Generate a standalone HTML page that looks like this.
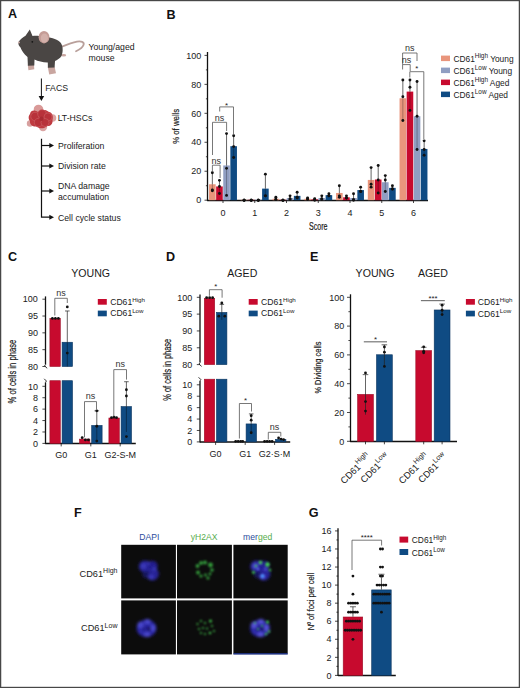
<!DOCTYPE html><html><head><meta charset="utf-8"><style>html,body{margin:0;padding:0;background:#fff;}svg{display:block;}text{font-family:"Liberation Sans",sans-serif;}</style></head><body>
<svg width="520" height="688" viewBox="0 0 520 688">
<rect x="0" y="0" width="520" height="688" fill="#fff"/>
<text x="8" y="18" font-size="12.6" text-anchor="start" fill="#111" font-weight="bold" >A</text>
<text x="166.5" y="18.5" font-size="12.6" text-anchor="start" fill="#111" font-weight="bold" >B</text>
<text x="8" y="261" font-size="12.6" text-anchor="start" fill="#111" font-weight="bold" >C</text>
<text x="166" y="261" font-size="12.6" text-anchor="start" fill="#111" font-weight="bold" >D</text>
<text x="310" y="260.5" font-size="12.6" text-anchor="start" fill="#111" font-weight="bold" >E</text>
<text x="74" y="517.1" font-size="12.6" text-anchor="start" fill="#111" font-weight="bold" >F</text>
<text x="308.7" y="517.3" font-size="12.6" text-anchor="start" fill="#111" font-weight="bold" >G</text>
<g>
<path d="M62 46.6 C67 44.5 72 42.5 77 41.6 C81 41 84.5 41.8 83.6 44.8 C82.8 47.5 79.5 49.6 76 51.2" fill="none" stroke="#b9a09b" stroke-width="1.8" stroke-linecap="round"/>
<path d="M27.8 64.8 L34 64.8 L34.3 69.3 L28.4 70.3 Z" fill="#c9a6a0"/>
<path d="M47.8 66.8 L54.6 66.8 L56 73.3 L49.2 74.4 Z" fill="#c9a6a0"/>
<ellipse cx="63.6" cy="55.2" rx="2.6" ry="1.3" fill="#c9a6a0"/>
<path d="M18.4 42.3 C20 39.5 23 37 25.5 35.8 L29.8 29.6 L32.5 36 C36 35.2 40 36 44 37 C50 37 56 38.5 60 42 C63 45 63.5 51 61.5 56 C60 58.5 57 60 55 61 L54.6 67.5 L47.9 67.8 L47.8 62.5 C43 62.6 38 61.2 34.5 59.5 L34.3 65.5 L27.9 65.8 L27.5 57 C24 54 21.5 50.5 20.5 47.5 C19 46 18 44 18.4 42.3 Z" fill="#4a4644"/>
<ellipse cx="44" cy="37.2" rx="5.4" ry="6.2" fill="#c49c96"/>
<ellipse cx="44.4" cy="38" rx="3.6" ry="4.6" fill="#d3b0aa"/>
<circle cx="32.3" cy="41.8" r="0.9" fill="#141414"/>
<circle cx="18.9" cy="42.6" r="1" fill="#cdb0ab"/>
</g>
<text x="88.5" y="49.5" font-size="8.7" text-anchor="start" fill="#1a1a1a" font-weight="normal" >Young/aged</text>
<text x="88.5" y="60.5" font-size="8.7" text-anchor="start" fill="#1a1a1a" font-weight="normal" >mouse</text>
<line x1="41.4" y1="78.5" x2="41.4" y2="97" stroke="#111" stroke-width="1.0"/>
<path d="M38.6 96 L44.2 96 L41.4 101 Z" fill="#111"/>
<text x="45.3" y="90.6" font-size="8.7" text-anchor="start" fill="#1a1a1a" font-weight="normal" >FACS</text>
<g>
<circle cx="38.5" cy="109.5" r="4.8" fill="#d99a98"/>
<circle cx="52.5" cy="118" r="3.8" fill="#dba3a2"/>
<circle cx="43" cy="127" r="4.2" fill="#dba4a3"/>
<circle cx="30" cy="123.5" r="3.2" fill="#d7a09f"/>
<path d="M30 114 C31 109.5 35 110 38 112 C41 109.5 46 109 49 112 C52.5 112.5 53.5 116.5 52.5 120 C53 124.5 50 126.5 47 126 C44.5 129 39 129 36.5 126.5 C33 127 29.5 124.5 30 121 C28 119 28.5 115.5 30 114 Z" fill="#bf3a40"/>
<circle cx="35" cy="116.5" r="4.2" fill="#b8323a" stroke="#c95a5e" stroke-width="0.7"/>
<circle cx="42" cy="114" r="4.3" fill="#b8323a" stroke="#c95a5e" stroke-width="0.7"/>
<circle cx="48" cy="117" r="4" fill="#b8323a" stroke="#c95a5e" stroke-width="0.7"/>
<circle cx="38.5" cy="122.5" r="4.2" fill="#b8323a" stroke="#c95a5e" stroke-width="0.7"/>
<circle cx="45" cy="122.5" r="4" fill="#b8323a" stroke="#c95a5e" stroke-width="0.7"/>
<circle cx="41.5" cy="118.8" r="2.2" fill="#a82a32"/>
</g>
<text x="57.7" y="121" font-size="8.7" text-anchor="start" fill="#1a1a1a" font-weight="normal" >LT-HSCs</text>
<path d="M41.5 138.7 V217.2 H50" fill="none" stroke="#111" stroke-width="1.2"/>
<line x1="41.5" y1="145.5" x2="50" y2="145.5" stroke="#111" stroke-width="1.2"/>
<line x1="41.5" y1="166" x2="50" y2="166" stroke="#111" stroke-width="1.2"/>
<line x1="41.5" y1="191" x2="50" y2="191" stroke="#111" stroke-width="1.2"/>
<path d="M49.3 143 L54 145.5 L49.3 148 Z" fill="#111"/>
<path d="M49.3 163.5 L54 166 L49.3 168.5 Z" fill="#111"/>
<path d="M49.3 188.5 L54 191 L49.3 193.5 Z" fill="#111"/>
<path d="M49.3 214.7 L54 217.2 L49.3 219.7 Z" fill="#111"/>
<text x="58" y="149" font-size="8.7" text-anchor="start" fill="#1a1a1a" font-weight="normal" >Proliferation</text>
<text x="58" y="169.2" font-size="8.7" text-anchor="start" fill="#1a1a1a" font-weight="normal" >Division rate</text>
<text x="58" y="189" font-size="8.7" text-anchor="start" fill="#1a1a1a" font-weight="normal" >DNA damage</text>
<text x="58" y="200" font-size="8.7" text-anchor="start" fill="#1a1a1a" font-weight="normal" >accumulation</text>
<text x="58" y="220.7" font-size="8.7" text-anchor="start" fill="#1a1a1a" font-weight="normal" >Cell cycle status</text>
<line x1="207.5" y1="52" x2="207.5" y2="201.1" stroke="#111" stroke-width="1.3"/>
<line x1="204.5" y1="200.2" x2="207.7" y2="200.2" stroke="#1a1a1a" stroke-width="0.8"/>
<line x1="205.9" y1="185.72" x2="207.7" y2="185.72" stroke="#1a1a1a" stroke-width="0.8"/>
<line x1="204.5" y1="171.24" x2="207.7" y2="171.24" stroke="#1a1a1a" stroke-width="0.8"/>
<line x1="205.9" y1="156.76" x2="207.7" y2="156.76" stroke="#1a1a1a" stroke-width="0.8"/>
<line x1="204.5" y1="142.28" x2="207.7" y2="142.28" stroke="#1a1a1a" stroke-width="0.8"/>
<line x1="205.9" y1="127.8" x2="207.7" y2="127.8" stroke="#1a1a1a" stroke-width="0.8"/>
<line x1="204.5" y1="113.32" x2="207.7" y2="113.32" stroke="#1a1a1a" stroke-width="0.8"/>
<line x1="205.9" y1="98.84" x2="207.7" y2="98.84" stroke="#1a1a1a" stroke-width="0.8"/>
<line x1="204.5" y1="84.36" x2="207.7" y2="84.36" stroke="#1a1a1a" stroke-width="0.8"/>
<line x1="205.9" y1="69.88" x2="207.7" y2="69.88" stroke="#1a1a1a" stroke-width="0.8"/>
<line x1="204.5" y1="55.4" x2="207.7" y2="55.4" stroke="#1a1a1a" stroke-width="0.8"/>
<text x="201.3" y="203.4" font-size="9" text-anchor="end" fill="#1a1a1a" font-weight="normal" >0</text>
<text x="201.3" y="174.44" font-size="9" text-anchor="end" fill="#1a1a1a" font-weight="normal" >20</text>
<text x="201.3" y="145.48" font-size="9" text-anchor="end" fill="#1a1a1a" font-weight="normal" >40</text>
<text x="201.3" y="116.52" font-size="9" text-anchor="end" fill="#1a1a1a" font-weight="normal" >60</text>
<text x="201.3" y="87.56" font-size="9" text-anchor="end" fill="#1a1a1a" font-weight="normal" >80</text>
<text x="201.3" y="58.6" font-size="9" text-anchor="end" fill="#1a1a1a" font-weight="normal" >100</text>
<line x1="207.5" y1="200.5" x2="428" y2="200.5" stroke="#111" stroke-width="1.3"/>
<line x1="223" y1="200.2" x2="223" y2="203" stroke="#1a1a1a" stroke-width="0.8"/>
<text x="223" y="216" font-size="9" text-anchor="middle" fill="#1a1a1a" font-weight="normal" >0</text>
<line x1="254.75" y1="200.2" x2="254.75" y2="203" stroke="#1a1a1a" stroke-width="0.8"/>
<text x="254.75" y="216" font-size="9" text-anchor="middle" fill="#1a1a1a" font-weight="normal" >1</text>
<line x1="286.5" y1="200.2" x2="286.5" y2="203" stroke="#1a1a1a" stroke-width="0.8"/>
<text x="286.5" y="216" font-size="9" text-anchor="middle" fill="#1a1a1a" font-weight="normal" >2</text>
<line x1="318.25" y1="200.2" x2="318.25" y2="203" stroke="#1a1a1a" stroke-width="0.8"/>
<text x="318.25" y="216" font-size="9" text-anchor="middle" fill="#1a1a1a" font-weight="normal" >3</text>
<line x1="350" y1="200.2" x2="350" y2="203" stroke="#1a1a1a" stroke-width="0.8"/>
<text x="350" y="216" font-size="9" text-anchor="middle" fill="#1a1a1a" font-weight="normal" >4</text>
<line x1="381.75" y1="200.2" x2="381.75" y2="203" stroke="#1a1a1a" stroke-width="0.8"/>
<text x="381.75" y="216" font-size="9" text-anchor="middle" fill="#1a1a1a" font-weight="normal" >5</text>
<line x1="413.5" y1="200.2" x2="413.5" y2="203" stroke="#1a1a1a" stroke-width="0.8"/>
<text x="413.5" y="216" font-size="9" text-anchor="middle" fill="#1a1a1a" font-weight="normal" >6</text>
<text transform="translate(178.8,126.3) rotate(-90) scale(0.79,1)" x="0" y="0" font-size="9.9" text-anchor="middle" fill="#1a1a1a" stroke="#1a1a1a" stroke-width="0.2">% of wells</text>
<text transform="translate(318.2,230) scale(0.67,1)" font-size="10.6" text-anchor="middle" fill="#1a1a1a" stroke="#1a1a1a" stroke-width="0.2">Score</text>
<rect x="209.05" y="184.27" width="6.6" height="15.93" fill="#e9957c"/>
<line x1="212.35" y1="172.69" x2="212.35" y2="184.27" stroke="#222" stroke-width="0.7"/>
<line x1="212.35" y1="184.27" x2="212.35" y2="190.79" stroke="rgba(0,0,0,0.4)" stroke-width="0.7"/>
<circle cx="212.35" cy="172.69" r="1.45" fill="#111"/>
<circle cx="212.35" cy="190.79" r="1.45" fill="#111"/>
<circle cx="212.35" cy="190.06" r="1.45" fill="#111"/>
<rect x="216.15" y="186.44" width="6.6" height="13.76" fill="#c70a2e"/>
<line x1="219.45" y1="180.36" x2="219.45" y2="186.44" stroke="#222" stroke-width="0.7"/>
<line x1="219.45" y1="186.44" x2="219.45" y2="193.54" stroke="rgba(0,0,0,0.4)" stroke-width="0.7"/>
<circle cx="219.45" cy="180.36" r="1.45" fill="#111"/>
<circle cx="219.45" cy="186.44" r="1.45" fill="#111"/>
<circle cx="219.45" cy="193.54" r="1.45" fill="#111"/>
<rect x="223.25" y="165.45" width="6.6" height="34.75" fill="#909ec2"/>
<line x1="226.55" y1="133.59" x2="226.55" y2="165.45" stroke="#222" stroke-width="0.7"/>
<line x1="226.55" y1="165.45" x2="226.55" y2="195.42" stroke="rgba(0,0,0,0.4)" stroke-width="0.7"/>
<circle cx="226.55" cy="133.59" r="1.45" fill="#111"/>
<circle cx="226.55" cy="168.34" r="1.45" fill="#111"/>
<circle cx="226.55" cy="195.42" r="1.45" fill="#111"/>
<rect x="230.35" y="146.19" width="6.6" height="54.01" fill="#0f4b83"/>
<line x1="233.65" y1="135.76" x2="233.65" y2="146.19" stroke="#222" stroke-width="0.7"/>
<line x1="233.65" y1="146.19" x2="233.65" y2="157.48" stroke="rgba(0,0,0,0.4)" stroke-width="0.7"/>
<circle cx="233.65" cy="135.76" r="1.45" fill="#111"/>
<circle cx="233.65" cy="146.62" r="1.45" fill="#111"/>
<circle cx="233.65" cy="157.48" r="1.45" fill="#111"/>
<rect x="240.8" y="199.77" width="6.6" height="0.43" fill="#e9957c"/>
<circle cx="244.1" cy="200.2" r="1.45" fill="#111"/>
<circle cx="244.1" cy="200.2" r="1.45" fill="#111"/>
<circle cx="244.1" cy="200.2" r="1.45" fill="#111"/>
<rect x="247.9" y="199.77" width="6.6" height="0.43" fill="#c70a2e"/>
<circle cx="251.2" cy="200.2" r="1.45" fill="#111"/>
<circle cx="251.2" cy="200.2" r="1.45" fill="#111"/>
<circle cx="251.2" cy="200.2" r="1.45" fill="#111"/>
<rect x="255" y="199.77" width="6.6" height="0.43" fill="#909ec2"/>
<circle cx="258.3" cy="200.2" r="1.45" fill="#111"/>
<circle cx="258.3" cy="200.2" r="1.45" fill="#111"/>
<circle cx="258.3" cy="200.2" r="1.45" fill="#111"/>
<rect x="262.1" y="188.62" width="6.6" height="11.58" fill="#0f4b83"/>
<line x1="265.4" y1="174.14" x2="265.4" y2="188.62" stroke="#222" stroke-width="0.7"/>
<line x1="265.4" y1="188.62" x2="265.4" y2="195.86" stroke="rgba(0,0,0,0.4)" stroke-width="0.7"/>
<circle cx="265.4" cy="174.14" r="1.45" fill="#111"/>
<circle cx="265.4" cy="195.86" r="1.45" fill="#111"/>
<circle cx="265.4" cy="195.86" r="1.45" fill="#111"/>
<rect x="272.55" y="198.75" width="6.6" height="1.45" fill="#e9957c"/>
<line x1="275.85" y1="197.3" x2="275.85" y2="198.75" stroke="#222" stroke-width="0.7"/>
<circle cx="275.85" cy="197.3" r="1.45" fill="#111"/>
<circle cx="275.85" cy="199.48" r="1.45" fill="#111"/>
<circle cx="275.85" cy="199.48" r="1.45" fill="#111"/>
<rect x="279.65" y="199.77" width="6.6" height="0.43" fill="#c70a2e"/>
<circle cx="282.95" cy="200.2" r="1.45" fill="#111"/>
<circle cx="282.95" cy="200.2" r="1.45" fill="#111"/>
<circle cx="282.95" cy="200.2" r="1.45" fill="#111"/>
<rect x="286.75" y="198.03" width="6.6" height="2.17" fill="#909ec2"/>
<line x1="290.05" y1="195.86" x2="290.05" y2="198.03" stroke="#222" stroke-width="0.7"/>
<circle cx="290.05" cy="195.86" r="1.45" fill="#111"/>
<circle cx="290.05" cy="198.75" r="1.45" fill="#111"/>
<circle cx="290.05" cy="199.48" r="1.45" fill="#111"/>
<rect x="293.85" y="195.86" width="6.6" height="4.34" fill="#0f4b83"/>
<line x1="297.15" y1="192.24" x2="297.15" y2="195.86" stroke="#222" stroke-width="0.7"/>
<circle cx="297.15" cy="192.24" r="1.45" fill="#111"/>
<circle cx="297.15" cy="197.3" r="1.45" fill="#111"/>
<circle cx="297.15" cy="198.03" r="1.45" fill="#111"/>
<rect x="304.3" y="198.75" width="6.6" height="1.45" fill="#e9957c"/>
<circle cx="307.6" cy="198.03" r="1.45" fill="#111"/>
<circle cx="307.6" cy="199.48" r="1.45" fill="#111"/>
<circle cx="307.6" cy="198.75" r="1.45" fill="#111"/>
<rect x="311.4" y="199.33" width="6.6" height="0.87" fill="#c70a2e"/>
<circle cx="314.7" cy="198.75" r="1.45" fill="#111"/>
<circle cx="314.7" cy="200.2" r="1.45" fill="#111"/>
<circle cx="314.7" cy="199.48" r="1.45" fill="#111"/>
<rect x="318.5" y="198.03" width="6.6" height="2.17" fill="#909ec2"/>
<line x1="321.8" y1="195.86" x2="321.8" y2="198.03" stroke="#222" stroke-width="0.7"/>
<circle cx="321.8" cy="195.86" r="1.45" fill="#111"/>
<circle cx="321.8" cy="198.75" r="1.45" fill="#111"/>
<circle cx="321.8" cy="199.48" r="1.45" fill="#111"/>
<rect x="325.6" y="195.13" width="6.6" height="5.07" fill="#0f4b83"/>
<line x1="328.9" y1="193.68" x2="328.9" y2="195.13" stroke="#222" stroke-width="0.7"/>
<circle cx="328.9" cy="193.68" r="1.45" fill="#111"/>
<circle cx="328.9" cy="195.86" r="1.45" fill="#111"/>
<circle cx="328.9" cy="195.86" r="1.45" fill="#111"/>
<rect x="336.05" y="192.96" width="6.6" height="7.24" fill="#e9957c"/>
<line x1="339.35" y1="185.72" x2="339.35" y2="192.96" stroke="#222" stroke-width="0.7"/>
<line x1="339.35" y1="192.96" x2="339.35" y2="197.3" stroke="rgba(0,0,0,0.4)" stroke-width="0.7"/>
<circle cx="339.35" cy="185.72" r="1.45" fill="#111"/>
<circle cx="339.35" cy="195.86" r="1.45" fill="#111"/>
<circle cx="339.35" cy="197.3" r="1.45" fill="#111"/>
<rect x="343.15" y="197.3" width="6.6" height="2.9" fill="#c70a2e"/>
<line x1="346.45" y1="195.86" x2="346.45" y2="197.3" stroke="#222" stroke-width="0.7"/>
<circle cx="346.45" cy="195.86" r="1.45" fill="#111"/>
<circle cx="346.45" cy="198.03" r="1.45" fill="#111"/>
<circle cx="346.45" cy="198.03" r="1.45" fill="#111"/>
<rect x="350.25" y="198.03" width="6.6" height="2.17" fill="#909ec2"/>
<line x1="353.55" y1="193.68" x2="353.55" y2="198.03" stroke="#222" stroke-width="0.7"/>
<circle cx="353.55" cy="193.68" r="1.45" fill="#111"/>
<circle cx="353.55" cy="199.48" r="1.45" fill="#111"/>
<circle cx="353.55" cy="200.2" r="1.45" fill="#111"/>
<rect x="357.35" y="190.06" width="6.6" height="10.14" fill="#0f4b83"/>
<line x1="360.65" y1="187.17" x2="360.65" y2="190.06" stroke="#222" stroke-width="0.7"/>
<circle cx="360.65" cy="187.17" r="1.45" fill="#111"/>
<circle cx="360.65" cy="191.51" r="1.45" fill="#111"/>
<circle cx="360.65" cy="191.51" r="1.45" fill="#111"/>
<rect x="367.8" y="179.93" width="6.6" height="20.27" fill="#e9957c"/>
<line x1="371.1" y1="167.62" x2="371.1" y2="179.93" stroke="#222" stroke-width="0.7"/>
<line x1="371.1" y1="179.93" x2="371.1" y2="187.17" stroke="rgba(0,0,0,0.4)" stroke-width="0.7"/>
<circle cx="371.1" cy="167.62" r="1.45" fill="#111"/>
<circle cx="371.1" cy="184.27" r="1.45" fill="#111"/>
<circle cx="371.1" cy="187.17" r="1.45" fill="#111"/>
<rect x="374.9" y="179.49" width="6.6" height="20.71" fill="#c70a2e"/>
<line x1="378.2" y1="165.45" x2="378.2" y2="179.49" stroke="#222" stroke-width="0.7"/>
<line x1="378.2" y1="179.49" x2="378.2" y2="192.96" stroke="rgba(0,0,0,0.4)" stroke-width="0.7"/>
<circle cx="378.2" cy="165.45" r="1.45" fill="#111"/>
<circle cx="378.2" cy="179.93" r="1.45" fill="#111"/>
<circle cx="378.2" cy="192.96" r="1.45" fill="#111"/>
<rect x="382" y="182.24" width="6.6" height="17.96" fill="#909ec2"/>
<line x1="385.3" y1="175.58" x2="385.3" y2="182.24" stroke="#222" stroke-width="0.7"/>
<line x1="385.3" y1="182.24" x2="385.3" y2="191.51" stroke="rgba(0,0,0,0.4)" stroke-width="0.7"/>
<circle cx="385.3" cy="175.58" r="1.45" fill="#111"/>
<circle cx="385.3" cy="179.93" r="1.45" fill="#111"/>
<circle cx="385.3" cy="191.51" r="1.45" fill="#111"/>
<rect x="389.1" y="187.89" width="6.6" height="12.31" fill="#0f4b83"/>
<line x1="392.4" y1="185.72" x2="392.4" y2="187.89" stroke="#222" stroke-width="0.7"/>
<circle cx="392.4" cy="185.72" r="1.45" fill="#111"/>
<circle cx="392.4" cy="188.62" r="1.45" fill="#111"/>
<circle cx="392.4" cy="189.34" r="1.45" fill="#111"/>
<rect x="399.55" y="98.26" width="6.6" height="101.94" fill="#e9957c"/>
<line x1="402.85" y1="80.02" x2="402.85" y2="98.26" stroke="#222" stroke-width="0.7"/>
<line x1="402.85" y1="98.26" x2="402.85" y2="120.56" stroke="rgba(0,0,0,0.4)" stroke-width="0.7"/>
<circle cx="402.85" cy="80.02" r="1.45" fill="#111"/>
<circle cx="402.85" cy="96.67" r="1.45" fill="#111"/>
<circle cx="402.85" cy="120.56" r="1.45" fill="#111"/>
<rect x="406.65" y="91.6" width="6.6" height="108.6" fill="#c70a2e"/>
<line x1="409.95" y1="80.02" x2="409.95" y2="91.6" stroke="#222" stroke-width="0.7"/>
<line x1="409.95" y1="91.6" x2="409.95" y2="110.42" stroke="rgba(0,0,0,0.4)" stroke-width="0.7"/>
<circle cx="409.95" cy="80.02" r="1.45" fill="#111"/>
<circle cx="409.95" cy="87.26" r="1.45" fill="#111"/>
<circle cx="409.95" cy="110.42" r="1.45" fill="#111"/>
<rect x="413.75" y="116.22" width="6.6" height="83.98" fill="#909ec2"/>
<line x1="417.05" y1="81.46" x2="417.05" y2="116.22" stroke="#222" stroke-width="0.7"/>
<line x1="417.05" y1="116.22" x2="417.05" y2="149.52" stroke="rgba(0,0,0,0.4)" stroke-width="0.7"/>
<circle cx="417.05" cy="81.46" r="1.45" fill="#111"/>
<circle cx="417.05" cy="116.22" r="1.45" fill="#111"/>
<circle cx="417.05" cy="149.52" r="1.45" fill="#111"/>
<rect x="420.85" y="148.94" width="6.6" height="51.26" fill="#0f4b83"/>
<line x1="424.15" y1="140.83" x2="424.15" y2="148.94" stroke="#222" stroke-width="0.7"/>
<line x1="424.15" y1="148.94" x2="424.15" y2="155.31" stroke="rgba(0,0,0,0.4)" stroke-width="0.7"/>
<circle cx="424.15" cy="140.83" r="1.45" fill="#111"/>
<circle cx="424.15" cy="155.31" r="1.45" fill="#111"/>
<circle cx="424.15" cy="149.52" r="1.45" fill="#111"/>
<path d="M212.4 172V165.2H220.1V178" fill="none" stroke="#555555" stroke-width="0.8"/>
<text x="216.25" y="163.8" font-size="9" text-anchor="middle" fill="#333" font-weight="normal" >ns</text>
<path d="M212.5 155V122.3H226.6V131" fill="none" stroke="#555555" stroke-width="0.8"/>
<text x="219.55" y="120.5" font-size="9" text-anchor="middle" fill="#333" font-weight="normal" >ns</text>
<path d="M219.7 111.5V106.9H233.5V134" fill="none" stroke="#555555" stroke-width="0.8"/>
<text x="226.6" y="107.7" font-size="7.8" text-anchor="middle" fill="#222" font-weight="normal" >*</text>
<path d="M402.6 64.6V53H417V61" fill="none" stroke="#555555" stroke-width="0.8"/>
<text x="409.8" y="51" font-size="9" text-anchor="middle" fill="#333" font-weight="normal" >ns</text>
<path d="M402.6 69.5V64.6H410.2V71" fill="none" stroke="#555555" stroke-width="0.8"/>
<text x="406.4" y="62.6" font-size="9" text-anchor="middle" fill="#333" font-weight="normal" >ns</text>
<path d="M409.8 77.5V71.7H423.8V139" fill="none" stroke="#555555" stroke-width="0.8"/>
<text x="416.8" y="71.4" font-size="7.8" text-anchor="middle" fill="#222" font-weight="normal" >*</text>
<rect x="441" y="55.6" width="9" height="5.5" fill="#e9957c"/>
<text x="453.4" y="61.6" font-size="8.4" fill="#1a1a1a">CD61<tspan font-size="6.4" dy="-3.6">High</tspan><tspan dy="3.6"> Young</tspan></text>
<rect x="441" y="67.6" width="9" height="5.5" fill="#909ec2"/>
<text x="453.4" y="73.6" font-size="8.4" fill="#1a1a1a">CD61<tspan font-size="6.4" dy="-3.6">Low</tspan><tspan dy="3.6"> Young</tspan></text>
<rect x="441" y="79.6" width="9" height="5.5" fill="#c70a2e"/>
<text x="453.4" y="85.6" font-size="8.4" fill="#1a1a1a">CD61<tspan font-size="6.4" dy="-3.6">High</tspan><tspan dy="3.6"> Aged</tspan></text>
<rect x="441" y="91.6" width="9" height="5.5" fill="#0f4b83"/>
<text x="453.4" y="97.6" font-size="8.4" fill="#1a1a1a">CD61<tspan font-size="6.4" dy="-3.6">Low</tspan><tspan dy="3.6"> Aged</tspan></text>
<line x1="45.5" y1="296.4" x2="45.5" y2="364.5" stroke="#111" stroke-width="1.3"/>
<line x1="42.4" y1="366.5" x2="45.6" y2="366.5" stroke="#1a1a1a" stroke-width="0.8"/>
<text x="37.9" y="369.7" font-size="9" text-anchor="end" fill="#1a1a1a" font-weight="normal" >80</text>
<line x1="42.4" y1="349.68" x2="45.6" y2="349.68" stroke="#1a1a1a" stroke-width="0.8"/>
<text x="37.9" y="352.88" font-size="9" text-anchor="end" fill="#1a1a1a" font-weight="normal" >85</text>
<line x1="42.4" y1="332.85" x2="45.6" y2="332.85" stroke="#1a1a1a" stroke-width="0.8"/>
<text x="37.9" y="336.05" font-size="9" text-anchor="end" fill="#1a1a1a" font-weight="normal" >90</text>
<line x1="42.4" y1="316.02" x2="45.6" y2="316.02" stroke="#1a1a1a" stroke-width="0.8"/>
<text x="37.9" y="319.22" font-size="9" text-anchor="end" fill="#1a1a1a" font-weight="normal" >95</text>
<line x1="42.4" y1="299.2" x2="45.6" y2="299.2" stroke="#1a1a1a" stroke-width="0.8"/>
<text x="37.9" y="302.4" font-size="9" text-anchor="end" fill="#1a1a1a" font-weight="normal" >100</text>
<path d="M45.6 364.5 L44.6 365.9 L47.2 368.3" fill="none" stroke="#1a1a1a" stroke-width="0.9"/>
<path d="M44.2 378.8 L46.4 381 L45.6 382.4" fill="none" stroke="#1a1a1a" stroke-width="0.9"/>
<line x1="45.5" y1="382.4" x2="45.5" y2="444.1" stroke="#111" stroke-width="1.3"/>
<line x1="42.4" y1="443.4" x2="45.6" y2="443.4" stroke="#1a1a1a" stroke-width="0.8"/>
<text x="37.9" y="446.6" font-size="9" text-anchor="end" fill="#1a1a1a" font-weight="normal" >0</text>
<line x1="42.4" y1="431.98" x2="45.6" y2="431.98" stroke="#1a1a1a" stroke-width="0.8"/>
<text x="37.9" y="435.18" font-size="9" text-anchor="end" fill="#1a1a1a" font-weight="normal" >2</text>
<line x1="42.4" y1="420.56" x2="45.6" y2="420.56" stroke="#1a1a1a" stroke-width="0.8"/>
<text x="37.9" y="423.76" font-size="9" text-anchor="end" fill="#1a1a1a" font-weight="normal" >4</text>
<line x1="42.4" y1="409.14" x2="45.6" y2="409.14" stroke="#1a1a1a" stroke-width="0.8"/>
<text x="37.9" y="412.34" font-size="9" text-anchor="end" fill="#1a1a1a" font-weight="normal" >6</text>
<line x1="42.4" y1="397.72" x2="45.6" y2="397.72" stroke="#1a1a1a" stroke-width="0.8"/>
<text x="37.9" y="400.92" font-size="9" text-anchor="end" fill="#1a1a1a" font-weight="normal" >8</text>
<line x1="42.4" y1="386.3" x2="45.6" y2="386.3" stroke="#1a1a1a" stroke-width="0.8"/>
<text x="37.9" y="389.5" font-size="9" text-anchor="end" fill="#1a1a1a" font-weight="normal" >10</text>
<line x1="45.5" y1="443.5" x2="135.8" y2="443.5" stroke="#111" stroke-width="1.3"/>
<line x1="61.2" y1="443.4" x2="61.2" y2="446.4" stroke="#1a1a1a" stroke-width="0.8"/>
<text x="61.2" y="458.4" font-size="9" text-anchor="middle" fill="#1a1a1a" font-weight="normal" >G0</text>
<line x1="90.8" y1="443.4" x2="90.8" y2="446.4" stroke="#1a1a1a" stroke-width="0.8"/>
<text x="90.8" y="458.4" font-size="9" text-anchor="middle" fill="#1a1a1a" font-weight="normal" >G1</text>
<line x1="120.2" y1="443.4" x2="120.2" y2="446.4" stroke="#1a1a1a" stroke-width="0.8"/>
<text x="120.2" y="458.4" font-size="9" text-anchor="middle" fill="#1a1a1a" font-weight="normal" >G2-S-M</text>
<rect x="49.9" y="318.34" width="10.4" height="48.16" fill="#c70a2e" stroke="#9e0f28" stroke-width="0.6"/>
<rect x="49.9" y="380.7" width="10.4" height="62.7" fill="#c70a2e" stroke="#9e0f28" stroke-width="0.6"/>
<rect x="62.1" y="342.24" width="10.4" height="24.26" fill="#0f4b83" stroke="#0b345e" stroke-width="0.6"/>
<rect x="62.1" y="380.7" width="10.4" height="62.7" fill="#0f4b83" stroke="#0b345e" stroke-width="0.6"/>
<rect x="79.5" y="439.13" width="10.4" height="4.27" fill="#c70a2e" stroke="#9e0f28" stroke-width="0.6"/>
<rect x="91.7" y="425.43" width="10.4" height="17.97" fill="#0f4b83" stroke="#0b345e" stroke-width="0.6"/>
<rect x="108.9" y="418" width="10.4" height="25.39" fill="#c70a2e" stroke="#9e0f28" stroke-width="0.6"/>
<rect x="121.1" y="406.58" width="10.4" height="36.82" fill="#0f4b83" stroke="#0b345e" stroke-width="0.6"/>
<circle cx="52.4" cy="318.38" r="1.4" fill="#111"/>
<circle cx="55.4" cy="318.38" r="1.4" fill="#111"/>
<circle cx="58.4" cy="318.38" r="1.4" fill="#111"/>
<line x1="67.3" y1="310.98" x2="67.3" y2="341.94" stroke="#222" stroke-width="0.7"/>
<line x1="65" y1="310.98" x2="69.6" y2="310.98" stroke="#222" stroke-width="0.7"/>
<line x1="67.3" y1="341.94" x2="67.3" y2="366.5" stroke="rgba(0,0,0,0.55)" stroke-width="0.7"/>
<circle cx="67.3" cy="306.94" r="1.4" fill="#111"/>
<circle cx="67.3" cy="353.04" r="1.4" fill="#111"/>
<circle cx="82.2" cy="437.69" r="1.4" fill="#111"/>
<circle cx="85.4" cy="439.97" r="1.4" fill="#111"/>
<circle cx="88.4" cy="439.97" r="1.4" fill="#111"/>
<line x1="96.8" y1="410.85" x2="96.8" y2="425.13" stroke="#222" stroke-width="0.7"/>
<line x1="94.5" y1="410.85" x2="99.1" y2="410.85" stroke="#222" stroke-width="0.7"/>
<line x1="96.8" y1="425.13" x2="96.8" y2="441.12" stroke="rgba(0,0,0,0.55)" stroke-width="0.7"/>
<circle cx="96.8" cy="410.85" r="1.4" fill="#111"/>
<circle cx="96.8" cy="426.27" r="1.4" fill="#111"/>
<circle cx="96.8" cy="441.12" r="1.4" fill="#111"/>
<circle cx="111.5" cy="417.7" r="1.4" fill="#111"/>
<circle cx="114" cy="417.13" r="1.4" fill="#111"/>
<circle cx="116.5" cy="417.7" r="1.4" fill="#111"/>
<line x1="126.4" y1="381.73" x2="126.4" y2="406.28" stroke="#222" stroke-width="0.7"/>
<line x1="124.1" y1="381.73" x2="128.7" y2="381.73" stroke="#222" stroke-width="0.7"/>
<line x1="126.4" y1="406.28" x2="126.4" y2="431.98" stroke="rgba(0,0,0,0.55)" stroke-width="0.7"/>
<circle cx="126.4" cy="389.73" r="1.4" fill="#111"/>
<circle cx="126.4" cy="396.01" r="1.4" fill="#111"/>
<circle cx="126.4" cy="436.55" r="1.4" fill="#111"/>
<path d="M54.8 315.5V298.3H67.3V303" fill="none" stroke="#555555" stroke-width="0.8"/>
<text x="61.05" y="296" font-size="9" text-anchor="middle" fill="#333" font-weight="normal" >ns</text>
<path d="M84.5 437.3V401.6H96.5V409.6" fill="none" stroke="#555555" stroke-width="0.8"/>
<text x="90.5" y="399.3" font-size="9" text-anchor="middle" fill="#333" font-weight="normal" >ns</text>
<path d="M113.8 416.5V369.6H126.5V379.6" fill="none" stroke="#555555" stroke-width="0.8"/>
<text x="120.15" y="367.3" font-size="9" text-anchor="middle" fill="#333" font-weight="normal" >ns</text>
<text x="71.2" y="277.3" font-size="10.6" text-anchor="start" fill="#1a1a1a" font-weight="normal" >YOUNG</text>
<text transform="translate(16.3,371.6) rotate(-90) scale(0.75,1)" x="0" y="0" font-size="10.2" text-anchor="middle" fill="#1a1a1a" stroke="#1a1a1a" stroke-width="0.2">% of cells in phase</text>
<rect x="97.8" y="299" width="9" height="5.7" fill="#c70a2e"/>
<text x="110.2" y="304.8" font-size="8.6" fill="#1a1a1a">CD61<tspan font-size="6.2" dy="-3.2">High</tspan></text>
<rect x="97.8" y="310.6" width="9" height="5.7" fill="#0f4b83"/>
<text x="110.2" y="316.4" font-size="8.6" fill="#1a1a1a">CD61<tspan font-size="6.2" dy="-3.2">Low</tspan></text>
<line x1="200" y1="294.5" x2="200" y2="362.6" stroke="#111" stroke-width="1.3"/>
<line x1="196.8" y1="364.6" x2="200" y2="364.6" stroke="#1a1a1a" stroke-width="0.8"/>
<text x="192.3" y="367.8" font-size="9" text-anchor="end" fill="#1a1a1a" font-weight="normal" >80</text>
<line x1="196.8" y1="347.78" x2="200" y2="347.78" stroke="#1a1a1a" stroke-width="0.8"/>
<text x="192.3" y="350.98" font-size="9" text-anchor="end" fill="#1a1a1a" font-weight="normal" >85</text>
<line x1="196.8" y1="330.95" x2="200" y2="330.95" stroke="#1a1a1a" stroke-width="0.8"/>
<text x="192.3" y="334.15" font-size="9" text-anchor="end" fill="#1a1a1a" font-weight="normal" >90</text>
<line x1="196.8" y1="314.12" x2="200" y2="314.12" stroke="#1a1a1a" stroke-width="0.8"/>
<text x="192.3" y="317.32" font-size="9" text-anchor="end" fill="#1a1a1a" font-weight="normal" >95</text>
<line x1="196.8" y1="297.3" x2="200" y2="297.3" stroke="#1a1a1a" stroke-width="0.8"/>
<text x="192.3" y="300.5" font-size="9" text-anchor="end" fill="#1a1a1a" font-weight="normal" >100</text>
<path d="M200 362.6 L199 364 L201.6 366.4" fill="none" stroke="#1a1a1a" stroke-width="0.9"/>
<path d="M198.6 377.3 L200.8 379.5 L200 380.9" fill="none" stroke="#1a1a1a" stroke-width="0.9"/>
<line x1="200" y1="380.9" x2="200" y2="442.6" stroke="#111" stroke-width="1.3"/>
<line x1="196.8" y1="441.9" x2="200" y2="441.9" stroke="#1a1a1a" stroke-width="0.8"/>
<text x="192.3" y="445.1" font-size="9" text-anchor="end" fill="#1a1a1a" font-weight="normal" >0</text>
<line x1="196.8" y1="430.48" x2="200" y2="430.48" stroke="#1a1a1a" stroke-width="0.8"/>
<text x="192.3" y="433.68" font-size="9" text-anchor="end" fill="#1a1a1a" font-weight="normal" >2</text>
<line x1="196.8" y1="419.06" x2="200" y2="419.06" stroke="#1a1a1a" stroke-width="0.8"/>
<text x="192.3" y="422.26" font-size="9" text-anchor="end" fill="#1a1a1a" font-weight="normal" >4</text>
<line x1="196.8" y1="407.64" x2="200" y2="407.64" stroke="#1a1a1a" stroke-width="0.8"/>
<text x="192.3" y="410.84" font-size="9" text-anchor="end" fill="#1a1a1a" font-weight="normal" >6</text>
<line x1="196.8" y1="396.22" x2="200" y2="396.22" stroke="#1a1a1a" stroke-width="0.8"/>
<text x="192.3" y="399.42" font-size="9" text-anchor="end" fill="#1a1a1a" font-weight="normal" >8</text>
<line x1="196.8" y1="384.8" x2="200" y2="384.8" stroke="#1a1a1a" stroke-width="0.8"/>
<text x="192.3" y="388" font-size="9" text-anchor="end" fill="#1a1a1a" font-weight="normal" >10</text>
<line x1="200" y1="442" x2="290.2" y2="442" stroke="#111" stroke-width="1.3"/>
<line x1="215.6" y1="441.9" x2="215.6" y2="444.9" stroke="#1a1a1a" stroke-width="0.8"/>
<text x="215.6" y="456.9" font-size="9" text-anchor="middle" fill="#1a1a1a" font-weight="normal" >G0</text>
<line x1="245.2" y1="441.9" x2="245.2" y2="444.9" stroke="#1a1a1a" stroke-width="0.8"/>
<text x="245.2" y="456.9" font-size="9" text-anchor="middle" fill="#1a1a1a" font-weight="normal" >G1</text>
<line x1="274.6" y1="441.9" x2="274.6" y2="444.9" stroke="#1a1a1a" stroke-width="0.8"/>
<text x="274.6" y="456.9" font-size="9" text-anchor="middle" fill="#1a1a1a" font-weight="normal" >G2·S·M</text>
<rect x="204.3" y="298.27" width="10.4" height="66.33" fill="#c70a2e" stroke="#9e0f28" stroke-width="0.6"/>
<rect x="204.3" y="379.2" width="10.4" height="62.7" fill="#c70a2e" stroke="#9e0f28" stroke-width="0.6"/>
<rect x="216.5" y="312.41" width="10.4" height="52.19" fill="#0f4b83" stroke="#0b345e" stroke-width="0.6"/>
<rect x="216.5" y="379.2" width="10.4" height="62.7" fill="#0f4b83" stroke="#0b345e" stroke-width="0.6"/>
<rect x="233.9" y="441.91" width="10.4" height="-0.01" fill="#c70a2e" stroke="#9e0f28" stroke-width="0.6"/>
<rect x="246.1" y="423.93" width="10.4" height="17.97" fill="#0f4b83" stroke="#0b345e" stroke-width="0.6"/>
<rect x="263.3" y="441.91" width="10.4" height="-0.01" fill="#c70a2e" stroke="#9e0f28" stroke-width="0.6"/>
<rect x="275.5" y="439.34" width="10.4" height="2.56" fill="#0f4b83" stroke="#0b345e" stroke-width="0.6"/>
<circle cx="206.6" cy="297.64" r="1.4" fill="#111"/>
<circle cx="209.6" cy="297.64" r="1.4" fill="#111"/>
<circle cx="212.6" cy="297.64" r="1.4" fill="#111"/>
<line x1="221.8" y1="304.37" x2="221.8" y2="312.11" stroke="#222" stroke-width="0.7"/>
<line x1="219.5" y1="304.37" x2="224.1" y2="304.37" stroke="#222" stroke-width="0.7"/>
<line x1="221.8" y1="312.11" x2="221.8" y2="319.85" stroke="rgba(0,0,0,0.55)" stroke-width="0.7"/>
<circle cx="221.8" cy="303.02" r="1.4" fill="#111"/>
<circle cx="218.8" cy="316.14" r="1.4" fill="#111"/>
<circle cx="224.8" cy="316.14" r="1.4" fill="#111"/>
<circle cx="235.7" cy="441.33" r="1.4" fill="#111"/>
<circle cx="238.2" cy="441.33" r="1.4" fill="#111"/>
<circle cx="240.7" cy="441.33" r="1.4" fill="#111"/>
<circle cx="242.7" cy="441.33" r="1.4" fill="#111"/>
<line x1="251.2" y1="413.92" x2="251.2" y2="423.63" stroke="#222" stroke-width="0.7"/>
<line x1="248.9" y1="413.92" x2="253.5" y2="413.92" stroke="#222" stroke-width="0.7"/>
<line x1="251.2" y1="423.63" x2="251.2" y2="433.33" stroke="rgba(0,0,0,0.55)" stroke-width="0.7"/>
<circle cx="251.2" cy="415.63" r="1.4" fill="#111"/>
<circle cx="251.2" cy="420.2" r="1.4" fill="#111"/>
<circle cx="251.2" cy="432.76" r="1.4" fill="#111"/>
<circle cx="264.6" cy="441.33" r="1.4" fill="#111"/>
<circle cx="267.1" cy="441.33" r="1.4" fill="#111"/>
<circle cx="269.6" cy="441.33" r="1.4" fill="#111"/>
<circle cx="272.1" cy="441.33" r="1.4" fill="#111"/>
<circle cx="278.6" cy="437.9" r="1.4" fill="#111"/>
<circle cx="281.1" cy="439.04" r="1.4" fill="#111"/>
<circle cx="283.6" cy="439.62" r="1.4" fill="#111"/>
<path d="M209.4 295.8V289.7H222.1V297.7" fill="none" stroke="#555555" stroke-width="0.8"/>
<text x="215.75" y="289.4" font-size="7.8" text-anchor="middle" fill="#222" font-weight="normal" >*</text>
<path d="M239.4 438.5V403.5H251.5V411.5" fill="none" stroke="#555555" stroke-width="0.8"/>
<text x="245.45" y="403.2" font-size="7.8" text-anchor="middle" fill="#222" font-weight="normal" >*</text>
<path d="M268.3 439.5V432.3H280.8V436.5" fill="none" stroke="#555555" stroke-width="0.8"/>
<text x="274.55" y="430" font-size="9" text-anchor="middle" fill="#333" font-weight="normal" >ns</text>
<text x="227.3" y="277.3" font-size="10.6" text-anchor="start" fill="#1a1a1a" font-weight="normal" >AGED</text>
<text transform="translate(170.7,369.8) rotate(-90) scale(0.73,1)" x="0" y="0" font-size="10.2" text-anchor="middle" fill="#1a1a1a" stroke="#1a1a1a" stroke-width="0.2">% of cells in phase</text>
<rect x="248.7" y="299" width="9" height="5.7" fill="#c70a2e"/>
<text x="261.1" y="304.8" font-size="8.6" fill="#1a1a1a">CD61<tspan font-size="6.2" dy="-3.2">High</tspan></text>
<rect x="248.7" y="310.6" width="9" height="5.7" fill="#0f4b83"/>
<text x="261.1" y="316.4" font-size="8.6" fill="#1a1a1a">CD61<tspan font-size="6.2" dy="-3.2">Low</tspan></text>
<line x1="350.5" y1="294.3" x2="350.5" y2="442.1" stroke="#111" stroke-width="1.3"/>
<line x1="347" y1="441.3" x2="350.2" y2="441.3" stroke="#1a1a1a" stroke-width="0.8"/>
<line x1="348.4" y1="426.9" x2="350.2" y2="426.9" stroke="#1a1a1a" stroke-width="0.8"/>
<line x1="347" y1="412.5" x2="350.2" y2="412.5" stroke="#1a1a1a" stroke-width="0.8"/>
<line x1="348.4" y1="398.1" x2="350.2" y2="398.1" stroke="#1a1a1a" stroke-width="0.8"/>
<line x1="347" y1="383.7" x2="350.2" y2="383.7" stroke="#1a1a1a" stroke-width="0.8"/>
<line x1="348.4" y1="369.3" x2="350.2" y2="369.3" stroke="#1a1a1a" stroke-width="0.8"/>
<line x1="347" y1="354.9" x2="350.2" y2="354.9" stroke="#1a1a1a" stroke-width="0.8"/>
<line x1="348.4" y1="340.5" x2="350.2" y2="340.5" stroke="#1a1a1a" stroke-width="0.8"/>
<line x1="347" y1="326.1" x2="350.2" y2="326.1" stroke="#1a1a1a" stroke-width="0.8"/>
<line x1="348.4" y1="311.7" x2="350.2" y2="311.7" stroke="#1a1a1a" stroke-width="0.8"/>
<line x1="347" y1="297.3" x2="350.2" y2="297.3" stroke="#1a1a1a" stroke-width="0.8"/>
<text x="344.3" y="444.5" font-size="9" text-anchor="end" fill="#1a1a1a" font-weight="normal" >0</text>
<text x="344.3" y="415.7" font-size="9" text-anchor="end" fill="#1a1a1a" font-weight="normal" >20</text>
<text x="344.3" y="386.9" font-size="9" text-anchor="end" fill="#1a1a1a" font-weight="normal" >40</text>
<text x="344.3" y="358.1" font-size="9" text-anchor="end" fill="#1a1a1a" font-weight="normal" >60</text>
<text x="344.3" y="329.3" font-size="9" text-anchor="end" fill="#1a1a1a" font-weight="normal" >80</text>
<text x="344.3" y="300.5" font-size="9" text-anchor="end" fill="#1a1a1a" font-weight="normal" >100</text>
<line x1="350.5" y1="441.5" x2="457" y2="441.5" stroke="#111" stroke-width="1.3"/>
<rect x="357.6" y="394.37" width="15.8" height="46.93" fill="#c70a2e" stroke="#9e0f28" stroke-width="0.6"/>
<line x1="365.5" y1="441.3" x2="365.5" y2="444.3" stroke="#1a1a1a" stroke-width="0.8"/>
<rect x="376.5" y="354.77" width="15.8" height="86.53" fill="#0f4b83" stroke="#0b345e" stroke-width="0.6"/>
<line x1="384.4" y1="441.3" x2="384.4" y2="444.3" stroke="#1a1a1a" stroke-width="0.8"/>
<rect x="415.8" y="350.59" width="15.8" height="90.71" fill="#c70a2e" stroke="#9e0f28" stroke-width="0.6"/>
<line x1="423.7" y1="441.3" x2="423.7" y2="444.3" stroke="#1a1a1a" stroke-width="0.8"/>
<rect x="434.2" y="309.98" width="15.8" height="131.32" fill="#0f4b83" stroke="#0b345e" stroke-width="0.6"/>
<line x1="442.1" y1="441.3" x2="442.1" y2="444.3" stroke="#1a1a1a" stroke-width="0.8"/>
<line x1="365.5" y1="374.63" x2="365.5" y2="414.66" stroke="#222" stroke-width="0.7"/>
<line x1="362.7" y1="374.63" x2="368.3" y2="374.63" stroke="#222" stroke-width="0.7"/>
<circle cx="365.5" cy="372.9" r="1.4" fill="#111"/>
<circle cx="365.5" cy="401.56" r="1.4" fill="#111"/>
<circle cx="365.5" cy="411.06" r="1.4" fill="#111"/>
<line x1="384.4" y1="344.82" x2="384.4" y2="364.98" stroke="#222" stroke-width="0.7"/>
<line x1="381.6" y1="344.82" x2="387.2" y2="344.82" stroke="#222" stroke-width="0.7"/>
<circle cx="384.4" cy="346.98" r="1.4" fill="#111"/>
<circle cx="384.4" cy="352.16" r="1.4" fill="#111"/>
<circle cx="384.4" cy="366.42" r="1.4" fill="#111"/>
<line x1="423.7" y1="347.27" x2="423.7" y2="353.46" stroke="#222" stroke-width="0.7"/>
<line x1="420.9" y1="347.27" x2="426.5" y2="347.27" stroke="#222" stroke-width="0.7"/>
<circle cx="423.7" cy="346.84" r="1.4" fill="#111"/>
<circle cx="423.7" cy="351.3" r="1.4" fill="#111"/>
<circle cx="423.7" cy="352.74" r="1.4" fill="#111"/>
<line x1="442.1" y1="304.07" x2="442.1" y2="314.58" stroke="#222" stroke-width="0.7"/>
<line x1="439.3" y1="304.07" x2="444.9" y2="304.07" stroke="#222" stroke-width="0.7"/>
<circle cx="442.1" cy="305.22" r="1.4" fill="#111"/>
<circle cx="442.1" cy="310.26" r="1.4" fill="#111"/>
<circle cx="442.1" cy="314.58" r="1.4" fill="#111"/>
<line x1="363.8" y1="341.8" x2="387" y2="341.8" stroke="#777" stroke-width="1.2"/>
<text x="375.4" y="341.6" font-size="7.8" text-anchor="middle" fill="#222" font-weight="normal" >*</text>
<line x1="420.9" y1="300.6" x2="444.8" y2="300.6" stroke="#777" stroke-width="1.2"/>
<text x="433" y="300.9" font-size="7.8" text-anchor="middle" fill="#222" font-weight="normal" >***</text>
<text x="355.6" y="277.2" font-size="10.6" text-anchor="start" fill="#1a1a1a" font-weight="normal" >YOUNG</text>
<text x="417.9" y="277.2" font-size="10.6" text-anchor="start" fill="#1a1a1a" font-weight="normal" >AGED</text>
<text transform="translate(321.1,367.6) rotate(-90) scale(0.79,1)" x="0" y="0" font-size="9.4" text-anchor="middle" fill="#1a1a1a" stroke="#1a1a1a" stroke-width="0.2">% Dividing cells</text>
<rect x="465.9" y="299" width="9" height="5.7" fill="#c70a2e"/>
<text x="477.8" y="304.8" font-size="8.6" fill="#1a1a1a">CD61<tspan font-size="6.2" dy="-3.2">High</tspan></text>
<rect x="465.9" y="310.7" width="9" height="5.7" fill="#0f4b83"/>
<text x="477.8" y="316.5" font-size="8.6" fill="#1a1a1a">CD61<tspan font-size="6.2" dy="-3.2">Low</tspan></text>
<text transform="translate(371.3,457.6) rotate(-45)" font-size="9.3" text-anchor="end" fill="#1a1a1a">CD61<tspan font-size="7" dy="-4.6">High</tspan></text>
<text transform="translate(390.2,457.6) rotate(-45)" font-size="9.3" text-anchor="end" fill="#1a1a1a">CD61<tspan font-size="7" dy="-4.6">Low</tspan></text>
<text transform="translate(429.5,457.6) rotate(-45)" font-size="9.3" text-anchor="end" fill="#1a1a1a">CD61<tspan font-size="7" dy="-4.6">High</tspan></text>
<text transform="translate(447.9,457.6) rotate(-45)" font-size="9.3" text-anchor="end" fill="#1a1a1a">CD61<tspan font-size="7" dy="-4.6">Low</tspan></text>
<text x="149.3" y="539.6" font-size="8.6" text-anchor="middle" fill="#2b4c9c" font-weight="normal" >DAPI</text>
<text x="204.2" y="539.6" font-size="8.6" text-anchor="middle" fill="#58ad4e" font-weight="normal" >yH2AX</text>
<text x="257.7" y="539.6" font-size="8.6" text-anchor="middle"><tspan fill="#2b4c9c">mer</tspan><tspan fill="#58ad4e">ged</tspan></text>
<defs><filter id="bl" x="-50%" y="-50%" width="200%" height="200%"><feGaussianBlur stdDeviation="1.6"/></filter><filter id="bl2" x="-50%" y="-50%" width="200%" height="200%"><feGaussianBlur stdDeviation="0.9"/></filter></defs>
<rect x="121.2" y="544.8" width="54.7" height="53.6" fill="#0c0c0c"/>
<rect x="177" y="544.8" width="54.9" height="53.6" fill="#0c0c0c"/>
<rect x="233.4" y="544.8" width="54.3" height="53.6" fill="#0c0c0c"/>
<rect x="121.2" y="600.4" width="54.7" height="54" fill="#0c0c0c"/>
<rect x="177" y="600.4" width="54.9" height="54" fill="#0c0c0c"/>
<rect x="233.4" y="600.4" width="54.3" height="54" fill="#0c0c0c"/>
<g filter="url(#bl)" transform="translate(0,0)">
<ellipse cx="145" cy="566.5" rx="6.2" ry="6" fill="#27249a"/>
<ellipse cx="152.5" cy="566" rx="5.2" ry="5.2" fill="#221f8e"/>
<ellipse cx="152.5" cy="574" rx="6.4" ry="6.4" fill="#262396"/>
<ellipse cx="146" cy="574.5" rx="3.5" ry="3.5" fill="#18165e"/>
<ellipse cx="143.5" cy="566" rx="2.8" ry="3" fill="#3b37b8"/>
<ellipse cx="151" cy="577" rx="2.8" ry="2.4" fill="#3b37b8"/>
<ellipse cx="154.5" cy="569" rx="2" ry="2" fill="#3b37b8"/>
<ellipse cx="148.5" cy="563" rx="1.8" ry="1.6" fill="#3b37b8"/>
</g>
<g filter="url(#bl)" transform="translate(0,0)">
<ellipse cx="146.5" cy="628.3" rx="10" ry="8.8" fill="#2623a0"/>
<ellipse cx="140.5" cy="625" rx="3" ry="3.2" fill="#4a47cc"/>
<ellipse cx="147.5" cy="621.5" rx="3.2" ry="2.6" fill="#4a47cc"/>
<ellipse cx="153" cy="628" rx="2.6" ry="3.4" fill="#4a47cc"/>
<ellipse cx="147" cy="634.5" rx="3.2" ry="2.6" fill="#4a47cc"/>
<ellipse cx="141" cy="632" rx="2" ry="2" fill="#3330b0"/>
<ellipse cx="149" cy="628.8" rx="1.8" ry="1.8" fill="#0e0d38"/>
<ellipse cx="144" cy="629" rx="1.4" ry="1.4" fill="#1a1870"/>
</g>
<g filter="url(#bl)" transform="translate(111.5,0)">
<ellipse cx="145" cy="566.5" rx="6.2" ry="6" fill="#27249a"/>
<ellipse cx="152.5" cy="566" rx="5.2" ry="5.2" fill="#221f8e"/>
<ellipse cx="152.5" cy="574" rx="6.4" ry="6.4" fill="#262396"/>
<ellipse cx="146" cy="574.5" rx="3.5" ry="3.5" fill="#18165e"/>
<ellipse cx="143.5" cy="566" rx="2.8" ry="3" fill="#4a46d0"/>
<ellipse cx="151" cy="577" rx="2.8" ry="2.4" fill="#4a46d0"/>
<ellipse cx="154.5" cy="569" rx="2" ry="2" fill="#4a46d0"/>
<ellipse cx="148.5" cy="563" rx="1.8" ry="1.6" fill="#4a46d0"/>
</g>
<g filter="url(#bl)" transform="translate(113.5,0)">
<ellipse cx="146.5" cy="628.3" rx="10" ry="8.8" fill="#2623a0"/>
<ellipse cx="140.5" cy="625" rx="3" ry="3.2" fill="#5551d8"/>
<ellipse cx="147.5" cy="621.5" rx="3.2" ry="2.6" fill="#5551d8"/>
<ellipse cx="153" cy="628" rx="2.6" ry="3.4" fill="#5551d8"/>
<ellipse cx="147" cy="634.5" rx="3.2" ry="2.6" fill="#5551d8"/>
<ellipse cx="141" cy="632" rx="2" ry="2" fill="#3330b0"/>
<ellipse cx="149" cy="628.8" rx="1.8" ry="1.8" fill="#0e0d38"/>
<ellipse cx="144" cy="629" rx="1.4" ry="1.4" fill="#1a1870"/>
</g>
<g filter="url(#bl2)">
<circle cx="197.5" cy="566" r="1.9" fill="#33993a"/>
<circle cx="201" cy="563" r="1.9" fill="#33993a"/>
<circle cx="205" cy="562.5" r="2" fill="#33993a"/>
<circle cx="210.5" cy="565" r="2.4" fill="#33993a"/>
<circle cx="212" cy="570" r="1.8" fill="#33993a"/>
<circle cx="198" cy="572.5" r="1.9" fill="#33993a"/>
<circle cx="201" cy="576" r="1.6" fill="#33993a"/>
<circle cx="205.5" cy="575" r="1.4" fill="#33993a"/>
<circle cx="208" cy="578" r="1.6" fill="#33993a"/>
<circle cx="210" cy="574" r="1.4" fill="#33993a"/>
</g>
<g filter="url(#bl2)">
<circle cx="197.5" cy="624" r="1" fill="#3fbe48"/>
<circle cx="201" cy="621" r="1" fill="#3fbe48"/>
<circle cx="205" cy="623" r="1" fill="#3fbe48"/>
<circle cx="210.5" cy="621" r="1.5" fill="#3fbe48"/>
<circle cx="199" cy="629" r="1" fill="#3fbe48"/>
<circle cx="203" cy="628" r="1" fill="#3fbe48"/>
<circle cx="207" cy="628.5" r="1" fill="#3fbe48"/>
<circle cx="212" cy="626" r="1" fill="#3fbe48"/>
<circle cx="201" cy="633" r="1" fill="#3fbe48"/>
<circle cx="205" cy="634" r="1" fill="#3fbe48"/>
<circle cx="210" cy="633" r="1.3" fill="#3fbe48"/>
<circle cx="214" cy="631" r="1" fill="#3fbe48"/>
</g>
<g filter="url(#bl2)">
<circle cx="260.5" cy="562.5" r="1.8" fill="#44d050"/>
<circle cx="267.5" cy="564.5" r="2.2" fill="#44d050"/>
<circle cx="253.5" cy="572.5" r="1.4" fill="#44d050"/>
<circle cx="256" cy="566" r="1.2" fill="#44d050"/>
<circle cx="270" cy="570" r="1.2" fill="#44d050"/>
</g>
<g filter="url(#bl2)"><circle cx="262.5" cy="576" r="1.8" fill="#4aa0ff"/><circle cx="258" cy="569" r="1.2" fill="#6a70ff"/></g>
<g filter="url(#bl2)">
<circle cx="267.5" cy="622" r="1.6" fill="#44c84c"/>
<circle cx="266" cy="634" r="1.2" fill="#44c84c"/>
<circle cx="269" cy="631.5" r="1.2" fill="#44c84c"/>
<circle cx="255" cy="623" r="1" fill="#44c84c"/>
<circle cx="258" cy="629" r="1" fill="#44c84c"/>
<circle cx="262" cy="626" r="1" fill="#44c84c"/>
</g>
<line x1="233.5" y1="653.9" x2="287.7" y2="653.9" stroke="#2f4fd8" stroke-width="0.9"/>
<text x="79.6" y="576.6" font-size="9.2" fill="#1a1a1a">CD61<tspan font-size="7" dy="-3.7">High</tspan></text>
<text x="81.1" y="631.3" font-size="9.2" fill="#1a1a1a">CD61<tspan font-size="7" dy="-3.7">Low</tspan></text>
<line x1="338" y1="528.32" x2="338" y2="676.1" stroke="#111" stroke-width="1.3"/>
<line x1="335" y1="675.4" x2="338.2" y2="675.4" stroke="#1a1a1a" stroke-width="0.8"/>
<line x1="336.4" y1="666.37" x2="338.2" y2="666.37" stroke="#1a1a1a" stroke-width="0.8"/>
<line x1="335" y1="657.34" x2="338.2" y2="657.34" stroke="#1a1a1a" stroke-width="0.8"/>
<line x1="336.4" y1="648.31" x2="338.2" y2="648.31" stroke="#1a1a1a" stroke-width="0.8"/>
<line x1="335" y1="639.28" x2="338.2" y2="639.28" stroke="#1a1a1a" stroke-width="0.8"/>
<line x1="336.4" y1="630.25" x2="338.2" y2="630.25" stroke="#1a1a1a" stroke-width="0.8"/>
<line x1="335" y1="621.22" x2="338.2" y2="621.22" stroke="#1a1a1a" stroke-width="0.8"/>
<line x1="336.4" y1="612.19" x2="338.2" y2="612.19" stroke="#1a1a1a" stroke-width="0.8"/>
<line x1="335" y1="603.16" x2="338.2" y2="603.16" stroke="#1a1a1a" stroke-width="0.8"/>
<line x1="336.4" y1="594.13" x2="338.2" y2="594.13" stroke="#1a1a1a" stroke-width="0.8"/>
<line x1="335" y1="585.1" x2="338.2" y2="585.1" stroke="#1a1a1a" stroke-width="0.8"/>
<line x1="336.4" y1="576.07" x2="338.2" y2="576.07" stroke="#1a1a1a" stroke-width="0.8"/>
<line x1="335" y1="567.04" x2="338.2" y2="567.04" stroke="#1a1a1a" stroke-width="0.8"/>
<line x1="336.4" y1="558.01" x2="338.2" y2="558.01" stroke="#1a1a1a" stroke-width="0.8"/>
<line x1="335" y1="548.98" x2="338.2" y2="548.98" stroke="#1a1a1a" stroke-width="0.8"/>
<line x1="336.4" y1="539.95" x2="338.2" y2="539.95" stroke="#1a1a1a" stroke-width="0.8"/>
<line x1="335" y1="530.92" x2="338.2" y2="530.92" stroke="#1a1a1a" stroke-width="0.8"/>
<text x="331.5" y="678.6" font-size="9" text-anchor="end" fill="#1a1a1a" font-weight="normal" >0</text>
<text x="331.5" y="660.54" font-size="9" text-anchor="end" fill="#1a1a1a" font-weight="normal" >2</text>
<text x="331.5" y="642.48" font-size="9" text-anchor="end" fill="#1a1a1a" font-weight="normal" >4</text>
<text x="331.5" y="624.42" font-size="9" text-anchor="end" fill="#1a1a1a" font-weight="normal" >6</text>
<text x="331.5" y="606.36" font-size="9" text-anchor="end" fill="#1a1a1a" font-weight="normal" >8</text>
<text x="331.5" y="588.3" font-size="9" text-anchor="end" fill="#1a1a1a" font-weight="normal" >10</text>
<text x="331.5" y="570.24" font-size="9" text-anchor="end" fill="#1a1a1a" font-weight="normal" >12</text>
<text x="331.5" y="552.18" font-size="9" text-anchor="end" fill="#1a1a1a" font-weight="normal" >14</text>
<text x="331.5" y="534.12" font-size="9" text-anchor="end" fill="#1a1a1a" font-weight="normal" >16</text>
<line x1="338" y1="675.5" x2="395.8" y2="675.5" stroke="#111" stroke-width="1.3"/>
<rect x="343.2" y="617" width="19.5" height="58.4" fill="#c70a2e" stroke="#9e0f28" stroke-width="0.6"/>
<rect x="371.7" y="589.91" width="19.5" height="85.48" fill="#0f4b83" stroke="#0b345e" stroke-width="0.6"/>
<line x1="352.95" y1="606.77" x2="352.95" y2="616.7" stroke="#222" stroke-width="0.7"/>
<line x1="349.95" y1="606.77" x2="355.95" y2="606.77" stroke="#222" stroke-width="0.7"/>
<line x1="381.45" y1="574.26" x2="381.45" y2="589.62" stroke="#222" stroke-width="0.7"/>
<line x1="378.45" y1="574.26" x2="384.45" y2="574.26" stroke="#222" stroke-width="0.7"/>
<circle cx="352.95" cy="639.28" r="1.4" fill="#111"/>
<circle cx="345.25" cy="630.25" r="1.4" fill="#111"/>
<circle cx="347.45" cy="630.25" r="1.4" fill="#111"/>
<circle cx="349.65" cy="630.25" r="1.4" fill="#111"/>
<circle cx="351.85" cy="630.25" r="1.4" fill="#111"/>
<circle cx="354.05" cy="630.25" r="1.4" fill="#111"/>
<circle cx="356.25" cy="630.25" r="1.4" fill="#111"/>
<circle cx="358.45" cy="630.25" r="1.4" fill="#111"/>
<circle cx="360.65" cy="630.25" r="1.4" fill="#111"/>
<circle cx="346.35" cy="621.22" r="1.4" fill="#111"/>
<circle cx="348.55" cy="621.22" r="1.4" fill="#111"/>
<circle cx="350.75" cy="621.22" r="1.4" fill="#111"/>
<circle cx="352.95" cy="621.22" r="1.4" fill="#111"/>
<circle cx="355.15" cy="621.22" r="1.4" fill="#111"/>
<circle cx="357.35" cy="621.22" r="1.4" fill="#111"/>
<circle cx="359.55" cy="621.22" r="1.4" fill="#111"/>
<circle cx="348.55" cy="612.19" r="1.4" fill="#111"/>
<circle cx="350.75" cy="612.19" r="1.4" fill="#111"/>
<circle cx="352.95" cy="612.19" r="1.4" fill="#111"/>
<circle cx="355.15" cy="612.19" r="1.4" fill="#111"/>
<circle cx="357.35" cy="612.19" r="1.4" fill="#111"/>
<circle cx="348.55" cy="603.16" r="1.4" fill="#111"/>
<circle cx="350.75" cy="603.16" r="1.4" fill="#111"/>
<circle cx="352.95" cy="603.16" r="1.4" fill="#111"/>
<circle cx="355.15" cy="603.16" r="1.4" fill="#111"/>
<circle cx="357.35" cy="603.16" r="1.4" fill="#111"/>
<circle cx="352.95" cy="594.13" r="1.4" fill="#111"/>
<circle cx="352.95" cy="576.07" r="1.4" fill="#111"/>
<circle cx="381.45" cy="612.19" r="1.4" fill="#111"/>
<circle cx="373.75" cy="603.16" r="1.4" fill="#111"/>
<circle cx="375.95" cy="603.16" r="1.4" fill="#111"/>
<circle cx="378.15" cy="603.16" r="1.4" fill="#111"/>
<circle cx="380.35" cy="603.16" r="1.4" fill="#111"/>
<circle cx="382.55" cy="603.16" r="1.4" fill="#111"/>
<circle cx="384.75" cy="603.16" r="1.4" fill="#111"/>
<circle cx="386.95" cy="603.16" r="1.4" fill="#111"/>
<circle cx="389.15" cy="603.16" r="1.4" fill="#111"/>
<circle cx="373.75" cy="594.13" r="1.4" fill="#111"/>
<circle cx="375.95" cy="594.13" r="1.4" fill="#111"/>
<circle cx="378.15" cy="594.13" r="1.4" fill="#111"/>
<circle cx="380.35" cy="594.13" r="1.4" fill="#111"/>
<circle cx="382.55" cy="594.13" r="1.4" fill="#111"/>
<circle cx="384.75" cy="594.13" r="1.4" fill="#111"/>
<circle cx="386.95" cy="594.13" r="1.4" fill="#111"/>
<circle cx="389.15" cy="594.13" r="1.4" fill="#111"/>
<circle cx="377.05" cy="585.1" r="1.4" fill="#111"/>
<circle cx="379.25" cy="585.1" r="1.4" fill="#111"/>
<circle cx="381.45" cy="585.1" r="1.4" fill="#111"/>
<circle cx="383.65" cy="585.1" r="1.4" fill="#111"/>
<circle cx="385.85" cy="585.1" r="1.4" fill="#111"/>
<circle cx="380.35" cy="576.07" r="1.4" fill="#111"/>
<circle cx="382.55" cy="576.07" r="1.4" fill="#111"/>
<circle cx="380.35" cy="567.04" r="1.4" fill="#111"/>
<circle cx="382.55" cy="567.04" r="1.4" fill="#111"/>
<circle cx="380.35" cy="548.98" r="1.4" fill="#111"/>
<circle cx="382.55" cy="548.98" r="1.4" fill="#111"/>
<path d="M352 570V540.2H381.6V545.5" fill="none" stroke="#555555" stroke-width="0.8"/>
<text x="366.8" y="539.9" font-size="7.8" text-anchor="middle" fill="#222" font-weight="normal" >****</text>
<text transform="translate(314.3,601.6) rotate(-90) scale(0.78,1)" x="0" y="0" font-size="9.8" text-anchor="middle" fill="#1a1a1a" stroke="#1a1a1a" stroke-width="0.2">Nº of foci per cell</text>
<rect x="399.5" y="536.6" width="8.7" height="6" fill="#c70a2e"/>
<text x="411.8" y="543.1" font-size="8.4" fill="#1a1a1a">CD61<tspan font-size="6.3" dy="-3.6">High</tspan></text>
<rect x="399.5" y="549" width="8.7" height="6" fill="#0f4b83"/>
<text x="411.8" y="555.5" font-size="8.4" fill="#1a1a1a">CD61<tspan font-size="6.3" dy="-3.6">Low</tspan></text>
<rect x="0" y="0" width="1.25" height="688" fill="#474747"/><rect x="518.75" y="0" width="1.25" height="688" fill="#474747"/><rect x="0" y="0" width="520" height="1.2" fill="#474747"/><rect x="0" y="686.8" width="520" height="1.2" fill="#474747"/>
</svg></body></html>
